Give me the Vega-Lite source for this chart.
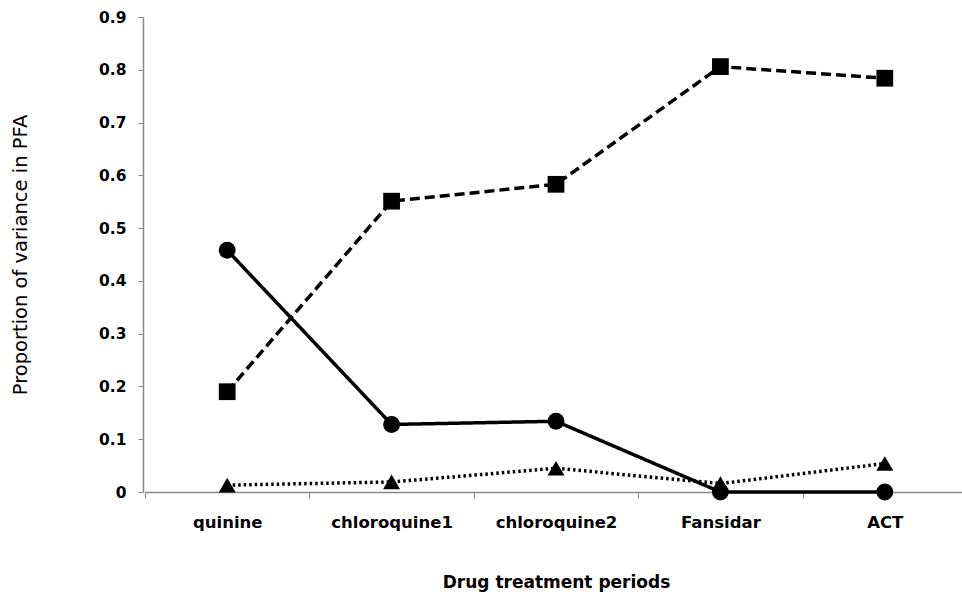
{
  "$schema": "https://vega.github.io/schema/vega-lite/v6.json",
  "width": 819,
  "height": 475,
  "autosize": "none",
  "padding": {"left": 143, "top": 17, "right": 0, "bottom": 111},
  "background": "white",
  "config": {
    "view": {"stroke": null},
    "font": "DejaVu Sans"
  },
  "data": {
    "values": [
      {"drug": "quinine", "series": "A", "value": 0.19},
      {"drug": "chloroquine1", "series": "A", "value": 0.551},
      {"drug": "chloroquine2", "series": "A", "value": 0.583},
      {"drug": "Fansidar", "series": "A", "value": 0.806},
      {"drug": "ACT", "series": "A", "value": 0.784},
      {"drug": "quinine", "series": "B", "value": 0.458},
      {"drug": "chloroquine1", "series": "B", "value": 0.128},
      {"drug": "chloroquine2", "series": "B", "value": 0.134},
      {"drug": "Fansidar", "series": "B", "value": 0.0},
      {"drug": "ACT", "series": "B", "value": 0.0},
      {"drug": "quinine", "series": "C", "value": 0.013},
      {"drug": "chloroquine1", "series": "C", "value": 0.019},
      {"drug": "chloroquine2", "series": "C", "value": 0.045},
      {"drug": "Fansidar", "series": "C", "value": 0.016},
      {"drug": "ACT", "series": "C", "value": 0.054}
    ]
  },
  "encoding": {
    "x": {
      "field": "drug",
      "type": "nominal",
      "sort": ["quinine", "chloroquine1", "chloroquine2", "Fansidar", "ACT"],
      "bandPosition": 0.5,
      "scale": {"type": "band", "paddingInner": 0, "paddingOuter": 0, "range": [2, 824]},
      "axis": {
        "title": "Drug treatment periods",
        "titleFont": "DejaVu Sans",
        "titleFontSize": 17,
        "titleFontWeight": "bold",
        "titleColor": "black",
        "titlePadding": 44,
        "labelAngle": 0,
        "labelFont": "DejaVu Sans",
        "labelFontSize": 16.5,
        "labelFontWeight": "bold",
        "labelColor": "black",
        "labelPadding": 16,
        "tickBand": "extent",
        "tickSize": 6,
        "tickColor": "#888888",
        "domainColor": "#888888",
        "domainWidth": 1.5,
        "grid": false
      }
    },
    "y": {
      "field": "value",
      "type": "quantitative",
      "scale": {"domain": [0, 0.9], "nice": false},
      "axis": {
        "title": "Proportion of variance in PFA",
        "titleFont": "DejaVu Sans",
        "titleFontSize": 19.5,
        "titleFontWeight": "normal",
        "titleColor": "black",
        "titlePadding": 68,
        "values": [0, 0.1, 0.2, 0.3, 0.4, 0.5, 0.6, 0.7, 0.8, 0.9],
        "labelExpr": "datum.value == 0 ? '0' : format(datum.value, '.1f')",
        "labelFont": "DejaVu Sans",
        "labelFontSize": 15.5,
        "labelFontWeight": "bold",
        "labelColor": "black",
        "labelPadding": 12,
        "tickSize": 5,
        "tickColor": "#888888",
        "domainColor": "#888888",
        "domainWidth": 1.5,
        "grid": false
      }
    }
  },
  "layer": [
    {
      "mark": {"type": "line", "color": "black", "strokeWidth": 3.5},
      "encoding": {
        "detail": {"field": "series"},
        "strokeDash": {
          "field": "series",
          "type": "nominal",
          "scale": {"domain": ["A", "B", "C"], "range": [[10, 5], [1, 0], [2.5, 3]]},
          "legend": null
        }
      }
    },
    {
      "mark": {"type": "point", "filled": true, "color": "black", "opacity": 1},
      "encoding": {
        "shape": {
          "field": "series",
          "type": "nominal",
          "scale": {"domain": ["A", "B", "C"], "range": ["square", "circle", "triangle-up"]},
          "legend": null
        },
        "size": {
          "field": "series",
          "type": "nominal",
          "scale": {"domain": ["A", "B", "C"], "range": [280, 290, 360]},
          "legend": null
        }
      }
    }
  ]
}
